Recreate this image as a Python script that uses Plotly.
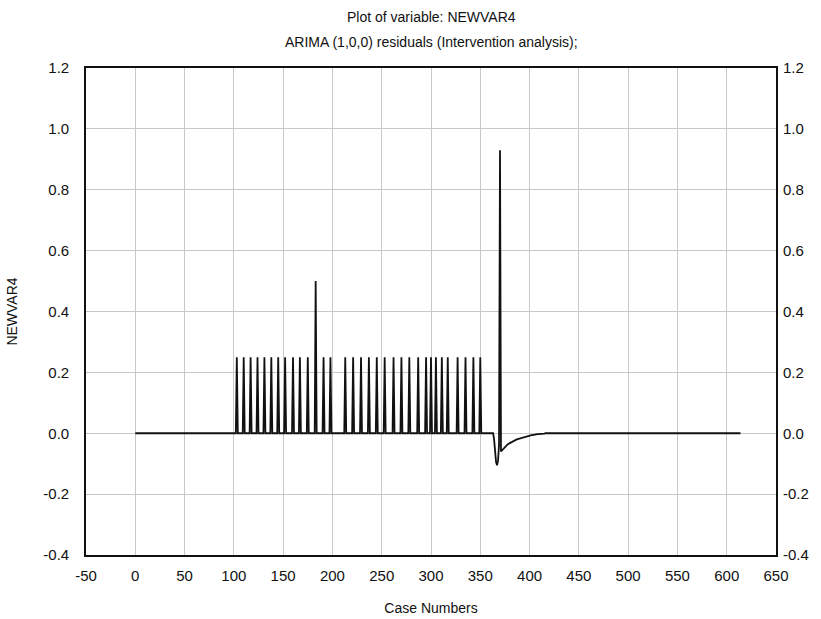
import plotly.graph_objects as go

# Case range of the residual series
first_case = 0
last_case = 614

# Regular intervention pulses (case number, residual value)
pulse_cases = [103, 110, 117, 124, 131, 138, 145, 152, 160, 167, 175, 183,
               191, 198, 213, 221, 229, 237, 245, 253, 262, 270, 278, 287,
               295, 300, 305, 311, 317, 327, 335, 343, 350]
pulse_values = [0.25, 0.25, 0.25, 0.25, 0.25, 0.25, 0.25, 0.25, 0.25, 0.25,
                0.25, 0.50, 0.25, 0.25, 0.25, 0.25, 0.25, 0.25, 0.25, 0.25,
                0.25, 0.25, 0.25, 0.25, 0.25, 0.25, 0.25, 0.25, 0.25, 0.25,
                0.25, 0.25, 0.25]

# Level-shift response: dip, spike and AR(1) decay back to zero
shock_cases = list(range(364, 416))
shock_values = [-0.020, -0.060, -0.095, -0.105, -0.090, -0.040, 0.930,
                -0.060, -0.056, -0.052, -0.048, -0.045, -0.042, -0.039,
                -0.036, -0.034, -0.032, -0.030, -0.028, -0.026, -0.024,
                -0.022, -0.021, -0.020, -0.019, -0.018, -0.016, -0.015,
                -0.014, -0.013, -0.012, -0.011, -0.010, -0.010, -0.009,
                -0.008, -0.008, -0.007, -0.006, -0.006, -0.005, -0.005,
                -0.004, -0.004, -0.003, -0.003, -0.003, -0.002, -0.002,
                -0.002, -0.001, -0.001]

x_ticks = list(range(-50, 651, 50))
x_tick_text = ["-50", "0", "50", "100", "150", "200", "250", "300", "350",
               "400", "450", "500", "550", "600", "650"]
y_ticks = [-0.4, -0.2, 0.0, 0.2, 0.4, 0.6, 0.8, 1.0, 1.2]
y_tick_text = ["-0.4", "-0.2", "0.0", "0.2", "0.4", "0.6", "0.8", "1.0", "1.2"]

title_line1 = "Plot of variable: NEWVAR4"
title_line2 = "ARIMA (1,0,0) residuals (Intervention analysis);"

# Residual series: zero everywhere except the listed cases
cases = list(range(first_case, last_case + 1))
residuals = {c: 0.0 for c in cases}
for c, v in zip(pulse_cases, pulse_values):
    residuals[c] = v
for c, v in zip(shock_cases, shock_values):
    residuals[c] = v
values = [residuals[c] for c in cases]

FONT = "Liberation Sans, Arial, sans-serif"
INK = "#111111"
GRID = "#c8c8c8"

fig = go.Figure()
fig.add_trace(go.Scatter(x=cases, y=values, mode="lines",
                         line=dict(color=INK, width=1.8),
                         hoverinfo="x+y", showlegend=False))
# Invisible trace so the right-hand value axis is drawn
fig.add_trace(go.Scatter(x=[first_case], y=[0], yaxis="y2", mode="markers",
                         marker=dict(opacity=0), hoverinfo="skip",
                         showlegend=False))

axis_common = dict(showline=True, linecolor=INK, linewidth=1.6,
                   gridcolor=GRID, gridwidth=1, zeroline=False,
                   ticks="", tickfont=dict(family=FONT, size=15, color=INK))

fig.update_layout(
    width=821, height=619,
    margin=dict(l=83, r=44, t=68, b=64),
    paper_bgcolor="white", plot_bgcolor="white",
    font=dict(family=FONT, color=INK),
    xaxis=dict(range=[-50, 650], tickvals=x_ticks, ticktext=x_tick_text,
               mirror=True, ticklabelstandoff=6, automargin=False,
               title=dict(text="Case Numbers", standoff=20,
                          font=dict(family=FONT, size=14)),
               **axis_common),
    yaxis=dict(range=[-0.4, 1.2], tickvals=y_ticks, ticktext=y_tick_text,
               mirror=True, ticklabelstandoff=12,
               title=dict(text="NEWVAR4", standoff=22,
                          font=dict(family=FONT, size=14)),
               **axis_common),
    yaxis2=dict(range=[-0.4, 1.2], tickvals=y_ticks, ticktext=y_tick_text,
                overlaying="y", side="right", showgrid=False,
                showline=False, zeroline=False, ticks="",
                ticklabelstandoff=6,
                tickfont=dict(family=FONT, size=15, color=INK)),
    annotations=[
        dict(text=title_line1, xref="paper", yref="paper", x=0.5, y=1.105,
             xanchor="center", yanchor="middle", showarrow=False,
             font=dict(family=FONT, size=14, color=INK)),
        dict(text=title_line2, xref="paper", yref="paper", x=0.5, y=1.053,
             xanchor="center", yanchor="middle", showarrow=False,
             font=dict(family=FONT, size=14, color=INK)),
    ],
)

fig.write_html("out.html")
